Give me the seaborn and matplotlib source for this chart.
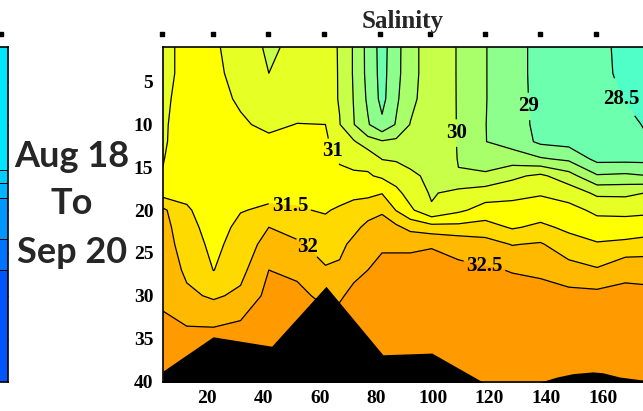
import numpy as np
import matplotlib
matplotlib.use("Agg")
import matplotlib.pyplot as plt
import seaborn as sns

# ---------------- data ----------------
stations = [4.5, 13, 22.5, 32, 42, 52, 62, 67, 72, 77, 82, 87, 92, 99.5,
            109, 118.5, 128, 138, 148, 158, 168, 178]
depths = [1, 4, 7, 10, 12, 14, 16, 18, 20, 22, 24, 27, 30, 34, 41]

# salinity profiles (one per station, top to bottom)
s_004 = [30.9, 30.9, 30.92, 30.94, 30.95, 30.98, 31.02, 31.3, 32.1, 32.2, 32.25, 32.35, 32.42, 32.6, 32.8]
s_013 = [31.1, 31.1, 31.15, 31.2, 31.2, 31.25, 31.3, 31.4, 31.55, 31.65, 31.75, 31.9, 32.1, 32.55, 32.8]
s_022 = [31.05, 31.08, 31.12, 31.15, 31.18, 31.2, 31.22, 31.25, 31.28, 31.32, 31.38, 31.49, 31.93, 32.55, 32.8]
s_032 = [30.85, 30.88, 30.95, 31.05, 31.12, 31.2, 31.28, 31.38, 31.48, 31.6, 31.7, 31.85, 32.1, 32.65, 32.85]
s_042 = [30.4, 30.5, 30.7, 30.92, 31.08, 31.18, 31.28, 31.4, 31.56, 32.0, 32.2, 32.5, 32.65, 32.8, 32.9]
s_052 = [30.65, 30.7, 30.8, 31.01, 31.1, 31.18, 31.28, 31.4, 31.53, 31.8, 32.08, 32.42, 32.6, 32.75, 32.85]
s_062 = [30.6, 30.62, 30.7, 31.0, 31.1, 31.15, 31.2, 31.3, 31.47, 31.6, 31.78, 32.05, 32.4, 32.7, 32.85]
s_067 = [30.48, 30.48, 30.47, 30.52, 30.7, 30.95, 31.1, 31.35, 31.55, 31.7, 31.85, 32.1, 32.45, 32.7, 32.85]
s_072 = [29.95, 29.95, 29.98, 30.02, 30.55, 30.8, 31.1, 31.4, 31.65, 31.85, 32.15, 32.4, 32.6, 32.75, 32.85]
s_077 = [29.35, 29.36, 29.42, 29.55, 30.2, 30.85, 31.05, 31.4, 31.75, 32.15, 32.3, 32.5, 32.65, 32.8, 32.9]
s_082 = [28.8, 28.82, 28.85, 29.1, 30.05, 30.48, 30.92, 31.48, 31.95, 32.15, 32.45, 32.6, 32.7, 32.8, 32.9]
s_087 = [29.35, 29.36, 29.42, 29.54, 30.1, 30.45, 30.75, 31.15, 31.48, 32.1, 32.45, 32.6, 32.7, 32.8, 32.9]
s_092 = [29.8, 29.8, 29.85, 30.02, 30.2, 30.38, 30.58, 30.78, 31.1, 31.85, 32.45, 32.6, 32.7, 32.8, 32.9]
s_100 = [30.3, 30.3, 30.32, 30.35, 30.37, 30.39, 30.41, 30.45, 30.55, 31.7, 32.48, 32.6, 32.7, 32.8, 32.9]
s_109 = [29.97, 29.97, 29.97, 29.97, 29.97, 29.98, 30.02, 30.65, 30.9, 31.65, 32.35, 32.6, 32.7, 32.8, 32.9]
s_118 = [29.52, 29.52, 29.52, 29.51, 29.51, 29.7, 30.1, 30.75, 31.2, 31.7, 32.2, 32.55, 32.7, 32.8, 32.9]
s_128 = [29.18, 29.18, 29.19, 29.2, 29.3, 29.75, 30.4, 30.8, 31.25, 31.45, 31.98, 32.48, 32.65, 32.8, 32.9]
s_138 = [28.85, 28.85, 28.86, 28.88, 28.9, 29.55, 30.6, 30.95, 31.25, 31.6, 32.05, 32.45, 32.6, 32.75, 32.9]
s_148 = [28.75, 28.75, 28.76, 28.78, 28.82, 29.4, 30.2, 30.8, 31.15, 31.4, 31.7, 32.2, 32.65, 32.8, 32.9]
s_158 = [28.6, 28.6, 28.62, 28.65, 28.7, 28.85, 29.55, 30.4, 30.9, 31.2, 31.55, 32.05, 32.65, 32.8, 32.9]
s_168 = [28.4, 28.42, 28.48, 28.6, 28.7, 28.85, 29.6, 30.4, 30.85, 31.25, 31.6, 32.4, 32.6, 32.8, 32.9]
s_178 = [28.3, 28.32, 28.36, 28.42, 28.48, 28.85, 29.49, 30.55, 30.9, 31.3, 31.7, 32.35, 32.6, 32.8, 32.9]

fill_levels = [28.0, 28.5, 29.0, 29.5, 30.0, 30.5, 31.0, 31.5, 32.0, 32.5, 33.0]
labeled_levels = [28.5, 29.0, 30.0, 31.0, 31.5, 32.0, 32.5]
plain_levels = [29.5, 30.5]
band_colors = ["#50FFC8", "#6CFFAE", "#8CFF8C", "#A8FF6A", "#C8FF48",
               "#E6FF24", "#FFFF00", "#FFDA00", "#FFBA00", "#FF9A00"]

# bottom topography
bottom_x = [4.6, 22.3, 43, 62.2, 82.3, 99.6, 117.7, 137.8, 143.8, 149.5, 156.5, 160, 166, 173, 177]
bottom_depth = [38.8, 34.8, 35.9, 28.9, 36.9, 36.7, 40.1, 40.1, 39.5, 39.1, 38.9, 39.0, 39.5, 39.8, 39.9]

# sampling stations marked above the panel
station_marks = [4.2, 22.2, 41.7, 61.5, 81.3, 98.9, 118.4, 137.8, 157.6]

x_ticks = [20, 40, 60, 80, 100, 120, 140, 160]
y_ticks = [5, 10, 15, 20, 25, 30, 35, 40]
title_text = "Salinity"
date_lines = ["Aug 18", "To", "Sep 20"]

# neighbouring (cut-off) panel on the left
left_depth = [1, 10, 15, 20, 25, 30, 41]
left_value = [8.2, 8.1, 8.0, 6.6, 5.7, 5.2, 4.6]
left_levels = [4.0, 5.5, 6.0, 7.0, 7.5, 7.9, 8.5]
left_colors = ["#0055FF", "#0073FF", "#0096FF", "#00B4FF", "#00CDFF", "#00E6FF"]

# ---------------- style ----------------
sns.set_style("white")
plt.rcParams["font.family"] = ["Liberation Serif", "DejaVu Serif"]
plt.rcParams["font.weight"] = "bold"

W, H = 643, 411
fig = plt.figure(figsize=(W / 100, H / 100), dpi=100)


def fx(px):
    return px / W


def fy(py):
    return 1 - py / H


# ---------------- main panel ----------------
ax = fig.add_axes([fx(163), fy(382), fx(650) - fx(163), fy(47.5) - fy(382)])
X, Y = np.meshgrid(stations, depths)
profiles = [s_004, s_013, s_022, s_032, s_042, s_052, s_062, s_067, s_072, s_077, s_082,
            s_087, s_092, s_100, s_109, s_118, s_128, s_138, s_148, s_158, s_168, s_178]
Z = np.column_stack(profiles)

ax.contourf(X, Y, Z, levels=fill_levels, colors=band_colors, zorder=1)
ax.contour(X, Y, Z, levels=plain_levels, colors="black", linewidths=0.9, zorder=2)
cs = ax.contour(X, Y, Z, levels=labeled_levels, colors="black", linewidths=0.9, zorder=2)

label_spots = [(166, 7.1), (133.2, 7.9), (107.8, 11.0), (64.3, 13.2),
               (49.5, 19.4), (54.8, 24.6), (118.4, 26.2)]
ax.clabel(cs, manual=label_spots, fmt=lambda v: f"{v:g}", fontsize=15,
          inline=True, inline_spacing=3)
for t in cs.labelTexts:
    t.set_rotation(0)
    t.set_fontweight("bold")
    t.set_zorder(5)

ax.fill_between(bottom_x, bottom_depth, 42, color="black", lw=0, zorder=3)

ax.set_xlim(4.6, 176.7)
ax.set_ylim(40.08, 1)
ax.set_xticks(x_ticks)
ax.set_yticks(y_ticks)
ax.tick_params(axis="both", length=0, labelsize=14, colors="black")
ax.tick_params(axis="x", pad=6)
ax.tick_params(axis="y", pad=7)
for lab in ax.get_xticklabels() + ax.get_yticklabels():
    lab.set_fontweight("bold")
for side in ["left", "bottom", "top"]:
    ax.spines[side].set_color("black")
    ax.spines[side].set_linewidth(1.2)
    ax.spines[side].set_zorder(6)
ax.spines["right"].set_visible(False)

ax.scatter(station_marks, [-0.6] * len(station_marks), marker="s", s=5,
           color="black", clip_on=False, zorder=6)

fig.text(fx(403), fy(28), title_text, ha="center", va="baseline",
         fontsize=18, fontweight="bold", family=["Liberation Serif"])

# ---------------- left (cut-off) panel ----------------
ax0 = fig.add_axes([fx(-60), fy(382), fx(8) - fx(-60), fy(47.5) - fy(382)])
LX, LY = np.meshgrid([0, 1], left_depth)
LZ = np.column_stack([left_value, left_value])
ax0.contourf(LX, LY, LZ, levels=left_levels, colors=left_colors)
ax0.contour(LX, LY, LZ, levels=left_levels[1:-1], colors="black", linewidths=0.7)
ax0.set_xlim(0, 1)
ax0.set_ylim(40.08, 1)
ax0.set_xticks([])
ax0.yaxis.tick_right()
ax0.set_yticks(y_ticks)
ax0.tick_params(axis="y", direction="in", length=3, width=0.8, labelright=False, right=True)
for side in ax0.spines.values():
    side.set_color("black")
    side.set_linewidth(1.2)
ax0.scatter([0.9], [-0.6], marker="s", s=5, color="black", clip_on=False)

# ---------------- date annotation ----------------
for txt, base in zip(date_lines, [167, 214, 263]):
    fig.text(fx(72), fy(base), txt, ha="center", va="baseline", fontsize=26,
             fontweight="bold", family=["Lato", "DejaVu Sans"])

fig.savefig("out.png", dpi=100)
